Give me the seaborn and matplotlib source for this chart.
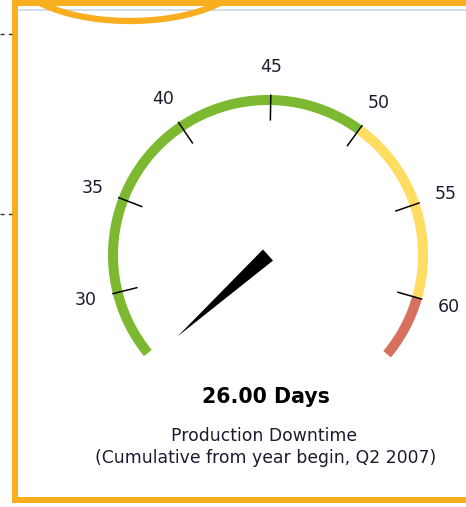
import matplotlib
matplotlib.use('Agg')
import matplotlib.pyplot as plt
import numpy as np
import seaborn as sns

# gauge data
TICK_VALUES = [30, 35, 40, 45, 50, 55, 60]
TICK_LABELS = ['30', '35', '40', '45', '50', '55', '60']
BAND_STARTS = [26.4, 50, 60]
BAND_ENDS = [50, 60, 63.4]
BAND_COLORS = ['#7cb830', '#ffdc62', '#d8705f']
NEEDLE_VALUE = 26.0
VALUE_TEXT = '26.00 Days'
TITLE = 'Production Downtime'
SUBTITLE = '(Cumulative from year begin, Q2 2007)'

# layout (pixel space of the 466x507 picture)
CX, CY = 268, 255
R_OUT, R_IN = 160, 150
DEG_PER_UNIT = 7.0
TOP_VALUE, TOP_ANGLE = 45, 89.0


def angle(v):
    return np.deg2rad(TOP_ANGLE - (v - TOP_VALUE) * DEG_PER_UNIT)


def pt(v, r):
    a = angle(v)
    return CX + r * np.cos(a), CY - r * np.sin(a)


sns.set_theme(style='white')
plt.rcParams['font.family'] = ['DejaVu Sans']

fig = plt.figure(figsize=(4.66, 5.07), dpi=100)
ax = fig.add_axes([0, 0, 1, 1])
ax.set_xlim(0, 466)
ax.set_ylim(507, 0)
ax.axis('off')

# frame decoration
orange = '#f9ae1f'
ax.fill([12, 18, 18, 12], [0, 0, 503, 503], color=orange, lw=0)
ax.fill([12, 466, 466, 12], [0, 0, 5.5, 5.5], color=orange, lw=0)
ax.fill([12, 466, 466, 12], [497, 497, 503, 503], color=orange, lw=0)
ax.plot([18, 466], [9.5, 9.5], color='#c8d5ea', lw=1.2)
t = np.linspace(0, np.pi, 200)
ax.plot(130 + 118 * np.cos(t), -30 + 51 * np.sin(t), color=orange, lw=4.5,
        solid_capstyle='butt')
for y in (34, 214):
    ax.plot([0, 12], [y, y], color='#333333', lw=1, ls=(0, (3, 3)))

# colour bands
for s, e, c in zip(BAND_STARTS, BAND_ENDS, BAND_COLORS):
    vs = np.linspace(s, e, 80)
    xo, yo = pt(vs, R_OUT)
    xi, yi = pt(vs[::-1], R_IN)
    ax.fill(np.r_[xo, xi], np.r_[yo, yi], color=c, lw=0)

# ticks and labels
for v, lab in zip(TICK_VALUES, TICK_LABELS):
    x0, y0 = pt(v, R_OUT)
    x1, y1 = pt(v, R_OUT - 25)
    ax.plot([x0, x1], [y0, y1], color='black', lw=1.1)
    lx, ly = pt(v, 188)
    ax.text(lx, ly, lab, ha='center', va='center', fontsize=12.5,
            color='#1c1c30')

# needle
a = angle(NEEDLE_VALUE)
tip = (CX + 122 * np.cos(a), CY - 122 * np.sin(a))
px, py = -np.sin(a), -np.cos(a)
hw = 7.5
ax.fill([tip[0], CX + hw * px, CX - hw * px],
        [tip[1], CY + hw * py, CY - hw * py], color='black', lw=0)

# texts
ax.text(266, 397, VALUE_TEXT, ha='center', va='center', fontsize=14.8,
        fontweight='bold', color='black')
ax.text(264, 436, TITLE, ha='center', va='center', fontsize=12.4,
        color='#1c1c30')
ax.text(266, 458, SUBTITLE, ha='center', va='center', fontsize=12.4,
        color='#1c1c30')

fig.savefig('out.png', dpi=100)
